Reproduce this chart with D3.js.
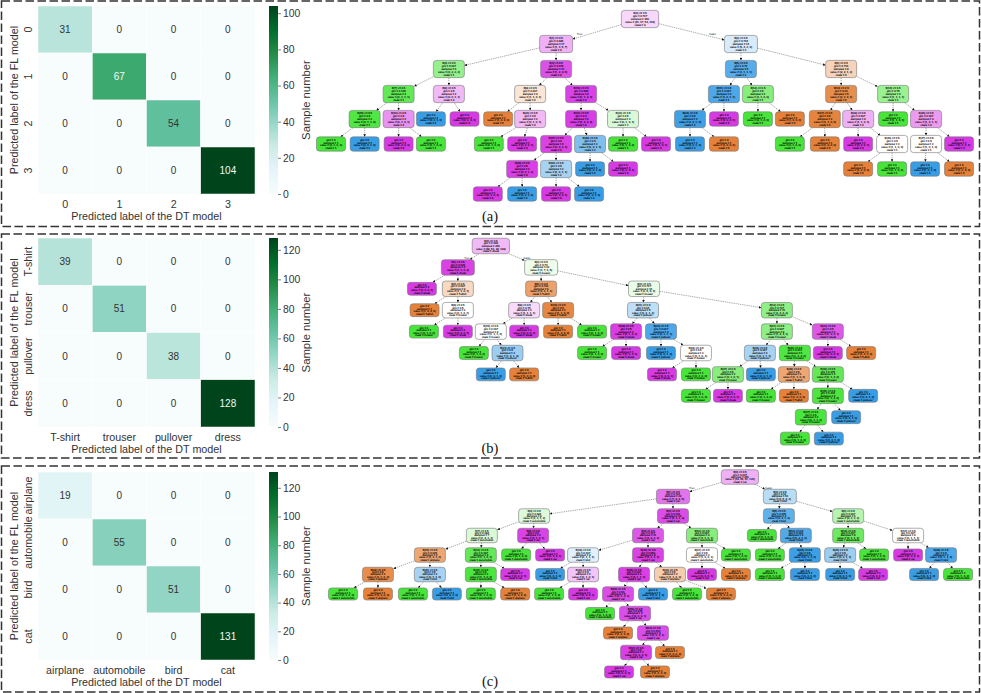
<!DOCTYPE html>
<html>
<head>
<meta charset="utf-8">
<script src="https://cdn.jsdelivr.net/npm/d3@7"></script>
<style>
  body { margin: 0; background: white; }
  text { font-family: "Liberation Sans", Arial, sans-serif; fill: #333; }
  .nodeText text { text-rendering: geometricPrecision; fill: #000; stroke: #000; stroke-width: .08px; }
</style>
</head>
<body>
<div id="chart"></div>
<script>

// Confusion matrices
var labelsA = ["0", "1", "2", "3"];
var labelsB = ["T-shirt", "trouser", "pullover", "dress"];
var labelsC = ["airplane", "automobile", "bird", "cat"];
var matrixA = [[31, 0, 0, 0], [0, 67, 0, 0], [0, 0, 54, 0], [0, 0, 0, 104]];
var matrixB = [[39, 0, 0, 0], [0, 51, 0, 0], [0, 0, 38, 0], [0, 0, 0, 128]];
var matrixC = [[19, 0, 0, 0], [0, 55, 0, 0], [0, 0, 51, 0], [0, 0, 0, 131]];
var ticksA = [0, 20, 40, 60, 80, 100];
var ticksBC = [0, 20, 40, 60, 80, 100, 120];
var captions = ["(a)", "(b)", "(c)"];

// Trees: [id, parent, slot along the tree's width, majority class, purity]
// Class: 0 orange, 1 green, 2 blue, 3 purple
var treeA = [
  [0, null, 9.28, 3, .2], [1, 0, 6.76, 3, .4], [2, 0, 12.31, 2, .2],
  [3, 1, 3.54, 1, .57], [4, 1, 6.76, 3, .88], [5, 2, 12.31, 2, .85], [6, 2, 15.32, 0, .35],
  [7, 3, 2.03, 1, .85], [8, 3, 3.54, 3, .35], [9, 4, 5.98, 0, .2], [10, 4, 7.51, 3, .95],
  [11, 5, 11.80, 2, .9], [12, 5, 12.82, 1, .65], [13, 6, 15.32, 0, .9], [14, 6, 16.88, 1, .55],
  [15, 7, 1.01, 1, .95], [16, 7, 2.03, 3, .55], [17, 8, 3.00, 2, 1], [18, 8, 4.01, 3, 1],
  [19, 9, 5.02, 0, 1], [20, 9, 5.98, 3, .35], [21, 10, 7.51, 3, .98], [22, 10, 8.77, 1, .2],
  [23, 11, 10.78, 2, .97], [24, 11, 11.80, 3, 1], [25, 12, 12.82, 1, 1], [26, 12, 13.78, 0, 1],
  [27, 13, 14.83, 0, .98], [28, 13, 15.83, 3, .4], [29, 14, 16.88, 1, 1], [30, 14, 17.87, 3, .5],
  [31, 15, 0, 1, 1], [32, 15, 1.01, 2, 1], [33, 16, 2.03, 3, 1], [34, 16, 3.00, 1, 1],
  [35, 20, 4.74, 1, 1], [36, 20, 5.74, 3, 1], [37, 21, 6.76, 3, .95], [38, 21, 7.78, 2, .65],
  [39, 22, 8.77, 1, 1], [40, 22, 9.76, 3, 1], [41, 23, 10.78, 2, 1], [42, 23, 11.80, 0, 1],
  [43, 27, 13.78, 1, 1], [44, 27, 14.83, 0, 1], [45, 28, 15.83, 3, 1], [46, 28, 16.85, 1, 0],
  [47, 30, 17.87, 1, 0], [48, 30, 18.86, 3, 1],
  [49, 37, 5.74, 3, .97], [50, 37, 6.76, 2, .45], [51, 38, 7.78, 2, 1], [52, 38, 8.77, 3, 1],
  [53, 46, 15.83, 0, 1], [54, 46, 16.85, 1, 1], [55, 47, 17.84, 2, 1], [56, 47, 18.86, 0, 1],
  [57, 49, 4.71, 3, 1], [58, 49, 5.74, 2, 1], [59, 50, 6.76, 3, 1], [60, 50, 7.75, 2, 1]
];
var treeB = [
  [0, null, 4.80, 3, .35], [1, 0, 3.81, 3, .95], [2, 0, 6.31, 1, .1],
  [3, 1, 2.73, 3, 1], [4, 1, 3.81, 0, .3], [5, 2, 6.31, 0, .75], [6, 2, 9.40, 1, .12],
  [7, 4, 2.81, 0, 1], [8, 4, 3.81, 1, 0], [9, 5, 5.80, 3, .18], [10, 5, 6.82, 0, .95],
  [11, 6, 9.37, 2, .33], [12, 6, 13.39, 1, .6],
  [13, 8, 2.79, 1, 1], [14, 8, 3.81, 3, 1], [15, 9, 4.80, 1, 0], [16, 9, 5.80, 3, 1],
  [17, 10, 6.82, 0, 1], [18, 10, 7.84, 1, 1], [19, 11, 8.86, 3, .98], [20, 11, 9.91, 2, .9],
  [21, 12, 13.39, 1, .62], [22, 12, 14.92, 3, .85],
  [23, 15, 4.29, 1, 1], [24, 15, 5.30, 2, .5], [25, 19, 7.84, 1, 1], [26, 19, 8.86, 3, 1],
  [27, 20, 9.91, 2, 1], [28, 20, 10.96, 1, 0], [29, 21, 12.88, 2, .45], [30, 21, 13.93, 1, .95],
  [31, 22, 14.92, 3, 1], [32, 22, 15.92, 0, 1],
  [33, 24, 4.80, 2, 1], [34, 24, 5.80, 0, 1], [35, 28, 9.94, 3, 1], [36, 28, 10.96, 1, 1],
  [37, 29, 11.92, 1, .65], [38, 29, 12.91, 2, 1], [39, 30, 13.90, 0, .7], [40, 30, 14.92, 1, .85],
  [41, 37, 10.96, 1, 1], [42, 37, 11.92, 3, 1], [43, 39, 12.91, 1, 1], [44, 39, 13.90, 0, 1],
  [45, 40, 14.92, 1, .97], [46, 40, 15.98, 2, 1],
  [47, 45, 14.41, 1, .98], [48, 45, 15.47, 2, 1], [49, 47, 13.93, 1, 1], [50, 47, 14.95, 2, 1]
];
var treeC = [
  [0, null, 12.28, 3, .4], [1, 0, 10.27, 3, .7], [2, 0, 13.48, 2, .35],
  [3, 1, 6.10, 1, .18], [4, 1, 10.27, 3, .9], [5, 2, 13.45, 2, .8], [6, 2, 15.53, 1, .4],
  [7, 3, 4.53, 1, .2], [8, 3, 6.07, 3, .95], [9, 4, 9.52, 3, .85], [10, 4, 11.14, 1, .65],
  [11, 5, 12.94, 1, 1], [12, 5, 13.96, 2, .88], [13, 6, 15.53, 1, .8], [14, 6, 17.33, 1, 0],
  [15, 7, 2.97, 0, .7], [16, 7, 4.50, 1, .85], [17, 8, 5.56, 1, 1], [18, 8, 6.58, 3, 1],
  [19, 9, 7.57, 2, .15], [20, 9, 9.52, 3, .95], [21, 10, 11.14, 1, 0], [22, 10, 12.16, 1, 1],
  [23, 12, 13.18, 1, 1], [24, 12, 14.23, 2, .98], [25, 13, 15.29, 2, .5], [26, 13, 16.31, 1, 1],
  [27, 14, 17.33, 3, 1], [28, 14, 18.32, 2, .9],
  [29, 15, 1.41, 0, .9], [30, 15, 2.97, 2, .45], [31, 16, 4.50, 1, .97], [32, 16, 5.53, 3, 1],
  [33, 19, 6.58, 2, 1], [34, 19, 7.57, 3, .3], [35, 20, 9.10, 3, .97], [36, 20, 10.18, 0, .4],
  [37, 21, 11.14, 3, 1], [38, 21, 12.16, 0, 1], [39, 24, 13.18, 1, 1], [40, 24, 14.23, 2, 1],
  [41, 25, 15.29, 2, 1], [42, 25, 16.28, 3, 1], [43, 28, 17.81, 2, 1], [44, 28, 18.83, 1, 1],
  [45, 29, .36, 1, 1], [46, 29, 1.41, 0, 1], [47, 30, 2.46, 1, 1], [48, 30, 3.48, 2, 1],
  [49, 31, 4.50, 1, 1], [50, 31, 5.53, 0, 1], [51, 34, 6.55, 1, 1], [52, 34, 7.57, 3, 1],
  [53, 35, 8.62, 3, .9], [54, 35, 9.67, 2, 1], [55, 36, 10.69, 1, 1], [56, 36, 11.71, 0, 1],
  [57, 53, 8.08, 1, 1], [58, 53, 9.13, 3, .9], [59, 58, 8.62, 0, 1], [60, 58, 9.67, 3, .9],
  [61, 60, 9.16, 3, .97], [62, 60, 10.18, 0, 1], [63, 61, 8.65, 3, 1], [64, 61, 9.73, 0, 1]
];

var classColors = ["#e58139", "#47e539", "#399de5", "#d739e5"];

var svg = d3.select("#chart")
  .append("svg")
  .attr("width", 981)
  .attr("height", 693)
  .style("display", "block");

svg.append("defs")
  .append("marker")
  .attr("id", "arrow")
  .attr("viewBox", "0 0 4 4")
  .attr("refX", 4)
  .attr("refY", 2)
  .attr("markerUnits", "userSpaceOnUse")
  .attr("markerWidth", 2.6)
  .attr("markerHeight", 2.6)
  .attr("orient", "auto")
  .append("path")
  .attr("d", "M0,0L4,2L0,4Z")
  .style("fill", "#111");

function makePanel(config) {

  // Dashed frame
  svg.append("rect")
    .attr("x", 1.5)
    .attr("y", config.top)
    .attr("width", 978)
    .attr("height", config.bottom - config.top)
    .style("fill", "none")
    .style("stroke", "#333")
    .style("stroke-width", 1.5)
    .style("stroke-dasharray", "8.5,3.5");

  makeHeatmap(config);
  makeColorbar(config);
  makeTree(config);

  svg.append("text")
    .attr("x", 490)
    .attr("y", config.captionY)
    .attr("text-anchor", "middle")
    .style("font-family", "'Liberation Serif', serif")
    .style("font-size", "14.5px")
    .style("fill", "#111")
    .text(config.caption);
}

function makeHeatmap(config) {

  var labelIdx = d3.range(config.labels.length);
  var x = d3.scaleBand().domain(labelIdx).range([38, 255]);
  var y = d3.scaleBand().domain(labelIdx).range([config.mapTop, config.mapBottom]);
  var midY = (config.mapTop + config.mapBottom) / 2;

  var cells = [];
  config.matrix.forEach(function(row, r) {
    row.forEach(function(v, c) { cells.push({r: r, c: c, v: v}); });
  });

  var g = svg.append("g");

  // Draw the cells
  g.selectAll("rect")
    .data(cells)
    .enter()
    .append("rect")
    .attr("x", function(d) { return x(d.c); })
    .attr("y", function(d) { return y(d.r); })
    .attr("width", x.bandwidth())
    .attr("height", y.bandwidth())
    .style("fill", function(d) { return config.color(d.v); })
    .style("stroke", "white")
    .style("stroke-width", .5);

  // Cell values, white on the dark cells
  g.selectAll("text.annot")
    .data(cells)
    .enter()
    .append("text")
    .attr("class", "annot")
    .attr("x", function(d) { return x(d.c) + x.bandwidth() / 2; })
    .attr("y", function(d) { return y(d.r) + y.bandwidth() / 2; })
    .attr("dy", "0.36em")
    .attr("text-anchor", "middle")
    .style("font-size", "10px")
    .style("fill", function(d) { return d.v / config.vmax > .6 ? "#f4faf6" : "#333"; })
    .text(function(d) { return d.v; });

  // Tick labels
  g.selectAll("text.xtick")
    .data(labelIdx)
    .enter()
    .append("text")
    .attr("class", "xtick")
    .attr("x", function(d) { return x(d) + x.bandwidth() / 2; })
    .attr("y", config.mapBottom + 13.5)
    .attr("text-anchor", "middle")
    .style("font-size", "10.7px")
    .text(function(d) { return config.labels[d]; });

  g.selectAll("text.ytick")
    .data(labelIdx)
    .enter()
    .append("text")
    .attr("class", "ytick")
    .attr("transform", function(d) { return "translate(31.5," + (y(d) + y.bandwidth() / 2) + ") rotate(-90)"; })
    .attr("text-anchor", "middle")
    .style("font-size", "10.7px")
    .text(function(d) { return config.labels[d]; });

  // Axis titles
  g.append("text")
    .attr("x", 146.5)
    .attr("y", config.mapBottom + 26)
    .attr("text-anchor", "middle")
    .style("font-size", "10.75px")
    .text("Predicted label of the DT model");

  g.append("text")
    .attr("transform", "translate(17.5," + midY + ") rotate(-90)")
    .attr("text-anchor", "middle")
    .style("font-size", "10.75px")
    .text("Predicted label of the FL model");
}

function makeColorbar(config) {

  var cb = d3.scaleLinear().domain([0, config.vmax]).range([config.mapBottom, config.mapTop]);
  var g = svg.append("g");

  g.selectAll("rect")
    .data(d3.range(config.mapTop, config.mapBottom))
    .enter()
    .append("rect")
    .attr("x", 269)
    .attr("y", function(d) { return d; })
    .attr("width", 9)
    .attr("height", 1.2)
    .style("fill", function(d) { return config.color(cb.invert(d + .5)); });

  var axis = g.append("g")
    .attr("transform", "translate(278,0)")
    .call(d3.axisRight(cb).tickValues(config.ticks).tickSize(3).tickPadding(2));
  axis.select(".domain").remove();
  axis.selectAll("line").style("stroke", "#444").style("stroke-width", .7);
  axis.selectAll("text").style("font-size", "10.4px").style("font-family", null);

  g.append("text")
    .attr("transform", "translate(310," + (config.mapTop + config.mapBottom) / 2 + ") rotate(-90)")
    .attr("text-anchor", "middle")
    .style("font-size", "11.3px")
    .text("Sample number");
}

// Returns the text of a node. The real strings are too small to read in the
// picture, so they are built from the tree itself (one sample per leaf).
function nodeLines(node, config) {
  var value = node.value4;
  var total = d3.sum(value);
  var gini = 1 - d3.sum(value, function(v) { return (v / total) * (v / total); });
  var lines = [];
  if (node.children) lines.push("X[" + node.data[0] + "] <= 0.5");
  lines.push("gini = " + d3.format(".3~f")(gini));
  lines.push("samples = " + total);
  lines.push("value = [" + value.join(", ") + "]");
  lines.push("class = " + config.labels[node.data[3]]);
  return lines;
}

function makeTree(config) {

  var root = d3.stratify()
    .id(function(d) { return d[0]; })
    .parentId(function(d) { return d[1]; })(config.tree);

  var x = d3.scaleLinear().domain([0, 20]).range([331, 997]);
  var y = d3.scaleLinear().domain([0, 10]).range([config.treeTop, config.treeTop + 10 * config.levelGap]);

  // Node text and sizes
  root.eachAfter(function(n) {
    if (n.children) {
      n.value4 = [0, 1, 2, 3].map(function(k) { return d3.sum(n.children, function(c) { return c.value4[k]; }); });
    } else {
      n.value4 = [0, 0, 0, 0];
      n.value4[n.data[3]] = 1;
    }
  });
  root.value4 = d3.range(4).map(function(k) { return config.matrix[k][k]; });
  root.each(function(n) {
    n.lines = nodeLines(n, config);
    var longest = d3.max(n.lines, function(s) { return s.length; });
    n.w = 1.25 * longest + (n.children ? 6 : 4) + (n.depth == 1 ? 2 : 0);
    n.h = n.lines.length * config.lineGap + 2.5;
    n.px = x(n.data[2]);
    n.py = y(n.depth);
  });

  var g = svg.append("g");

  // Edges run between the node borders
  function edgeEnd(a, b) {
    var dx = b.px - a.px, dy = b.py - a.py;
    var t = Math.min(dx ? (a.w / 2) / Math.abs(dx) : 1, dy ? (a.h / 2) / Math.abs(dy) : 1);
    return [a.px + dx * t, a.py + dy * t];
  }

  g.selectAll("line")
    .data(root.links())
    .enter()
    .append("line")
    .attr("x1", function(d) { return edgeEnd(d.source, d.target)[0]; })
    .attr("y1", function(d) { return edgeEnd(d.source, d.target)[1]; })
    .attr("x2", function(d) { return edgeEnd(d.target, d.source)[0]; })
    .attr("y2", function(d) { return edgeEnd(d.target, d.source)[1]; })
    .attr("marker-end", "url(#arrow)")
    .style("stroke", "#666")
    .style("stroke-width", .55)
    .style("stroke-dasharray", "1.4,.8");

  // True / False next to the root
  g.selectAll("text.split")
    .data(root.children)
    .enter()
    .append("text")
    .attr("class", "split")
    .attr("x", function(d) { return root.px + (d.px - root.px) * .72; })
    .attr("y", function(d) { return root.py + (d.py - root.py) * .72 - 2.5; })
    .attr("text-anchor", "middle")
    .style("font-size", "2.8px")
    .style("text-rendering", "geometricPrecision")
    .style("fill", "#111")
    .text(function(d, i) { return i == 0 ? "True" : "False"; });

  var nodes = g.selectAll("g.node")
    .data(root.descendants())
    .enter()
    .append("g")
    .attr("class", "node nodeText")
    .attr("transform", function(d) { return "translate(" + d.px + "," + d.py + ")"; });

  nodes.append("rect")
    .attr("x", function(d) { return -d.w / 2; })
    .attr("y", function(d) { return -d.h / 2; })
    .attr("width", function(d) { return d.w; })
    .attr("height", function(d) { return d.h; })
    .attr("rx", 3)
    .style("fill", function(d) { return d3.interpolateRgb("white", classColors[d.data[3]])(d.data[4]); })
    .style("stroke", "#777")
    .style("stroke-width", .6);

  nodes.selectAll("text")
    .data(function(d) {
      return d.lines.map(function(s, i) { return {s: s, i: i, n: d.lines.length}; });
    })
    .enter()
    .append("text")
    .attr("y", function(d) { return (d.i - (d.n - 1) / 2) * config.lineGap; })
    .attr("dy", "0.35em")
    .attr("text-anchor", "middle")
    .style("font-size", "2.75px")
    .text(function(d) { return d.s; });
}

function bugn(vmax) {
  return d3.scaleLinear()
    .domain(d3.range(9).map(function(i) { return vmax * i / 8; }))
    .range(d3.schemeBuGn[9]);
}

makePanel({
  top: 1, bottom: 226.5, mapTop: 6, mapBottom: 194, captionY: 221,
  caption: captions[0], labels: labelsA, matrix: matrixA, ticks: ticksA,
  vmax: 104, color: bugn(104), tree: treeA, treeTop: 19, levelGap: 25, lineGap: 2.95
});
makePanel({
  top: 234, bottom: 458, mapTop: 238, mapBottom: 427, captionY: 453,
  caption: captions[1], labels: labelsB, matrix: matrixB, ticks: ticksBC,
  vmax: 128, color: bugn(128), tree: treeB, treeTop: 246, levelGap: 21.4, lineGap: 2.6
});
makePanel({
  top: 466, bottom: 692, mapTop: 472, mapBottom: 660, captionY: 686,
  caption: captions[2], labels: labelsC, matrix: matrixC, ticks: ticksBC,
  vmax: 131, color: bugn(131), tree: treeC, treeTop: 477, levelGap: 19.5, lineGap: 2.4
});

</script>
</body>
</html>
